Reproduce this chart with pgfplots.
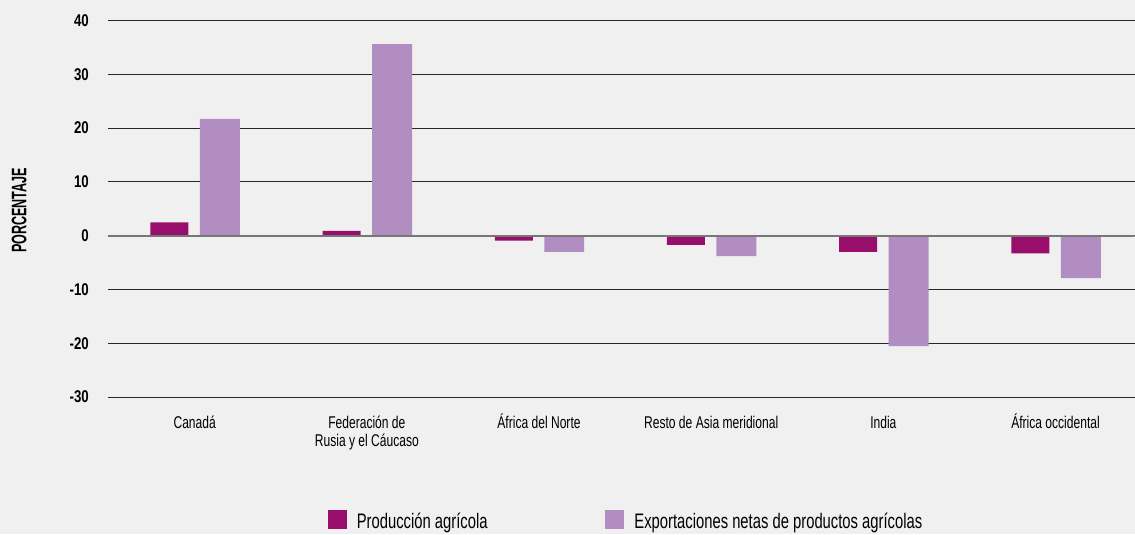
\documentclass[border=0pt]{standalone}
\usepackage{fontspec}
\setmainfont{Liberation Sans}
\newfontfamily\labfont[FakeStretch=0.71]{Liberation Sans}
\newfontfamily\tickfont[FakeStretch=0.78]{Liberation Sans}
\newfontfamily\legfont[FakeStretch=0.705]{Liberation Sans}
\newfontfamily\ylabfont[FakeStretch=0.60]{Liberation Sans}
\usepackage{pgfplots}
\pgfplotsset{compat=1.18}
\definecolor{bgc}{HTML}{F0F0F0}
\definecolor{prod}{HTML}{990E6A}
\definecolor{expo}{HTML}{B28DC2}
\definecolor{zl}{HTML}{777777}

\begin{document}
\begin{tikzpicture}
\fill[bgc] (-107.7pt,-137pt) rectangle (1027.3pt,397.3pt);
\begin{axis}[
  at={(0pt,0pt)}, anchor=south west,
  scale only axis, width=1027.3pt, height=376.8pt,
  xmin=-0.5054, xmax=5.4587, ymin=-30, ymax=40,
  xtick={0,...,5},
  xticklabels={Canadá,
    {\begin{tabular}[t]{@{}c@{}}Federación de\\Rusia y el Cáucaso\end{tabular}},
    África del Norte, Resto de Asia meridional, India, África occidental},
  ytick={-30,-20,...,40},
  ymajorgrids, major grid style={black!85, line width=1pt},
  axis line style={draw=none}, tick style={draw=none},
  /pgf/number format/assume math mode=true,
  yticklabel style={anchor=east, inner sep=0pt, xshift=-18.7pt,
    font=\tickfont\bfseries\fontsize{17}{17}\selectfont},
  xticklabel style={anchor=base, inner sep=0pt, yshift=-31.7pt,
    font=\labfont\fontsize{17}{16.3}\selectfont},
  ylabel={PORCENTAJE},
  ylabel style={at={(axis description cs:-0.0861,0.496)}, anchor=center,
    inner sep=0pt, font=\ylabfont\bfseries\fontsize{21}{21}\selectfont},
  legend columns=2,
  legend style={at={(axis description cs:0.2144,-0.2999)}, anchor=north west,
    draw=none, fill=none, inner sep=0pt, outer sep=0pt,
    font=\legfont\fontsize{21}{21}\selectfont,
    nodes={inner sep=0pt, outer sep=0pt},
    /tikz/every odd column/.append style={column sep=10pt}},
]
\addplot[ybar, bar width=38pt, bar shift=-25.25pt, fill=prod, draw=none,
  legend image code/.code={\fill[prod] (0pt,-8pt) rectangle (19pt,11pt);}]
  coordinates {(0,2.5) (1,0.9) (2,-0.9) (3,-1.7) (4,-3.0) (5,-3.3)};
\addlegendentry{\makebox[248.7pt][l]{Producción agrícola}}
\addplot[ybar, bar width=40pt, bar shift=25.25pt, fill=expo, draw=none,
  legend image code/.code={\fill[expo] (0pt,-8pt) rectangle (19pt,11pt);}]
  coordinates {(0,21.7) (1,35.6) (2,-3.0) (3,-3.8) (4,-20.5) (5,-7.9)};
\addlegendentry{Exportaciones netas de productos agrícolas}
\addplot[forget plot, zl, line width=2pt] coordinates {(-0.5054,0) (5.4587,0)};
\end{axis}
\end{tikzpicture}
\end{document}
